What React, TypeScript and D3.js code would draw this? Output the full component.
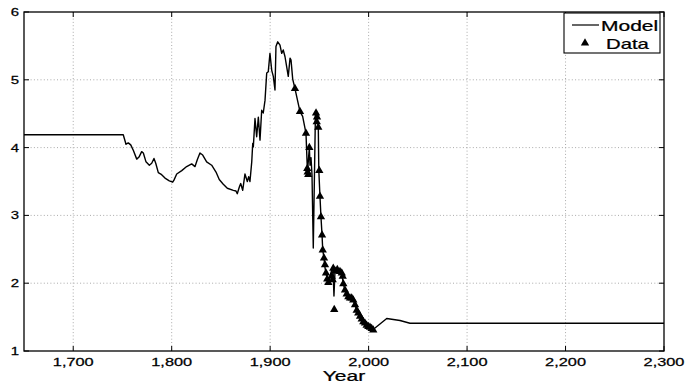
import React from 'react';
import * as d3 from 'd3';

// model curve (year, value)
const modelYears = [
  1650, 1750.8, 1753.6, 1755.9, 1758.4, 1761, 1764.5, 1766.8, 1769.5, 1771.2, 1773.9, 1777.3, 1779.7, 1782, 1783.8,
  1786.4, 1789.8, 1793.2, 1797.6, 1801, 1802.3, 1805.1, 1810.2, 1815.2, 1820.3, 1823.7, 1826, 1828.7, 1831.5, 1835.5,
  1840.6, 1845, 1848.3, 1852.4, 1856.5, 1862.6, 1865.3, 1866.6, 1868.7, 1870.1, 1872.1, 1874.4, 1876.8, 1878.2, 1879.5,
  1881.3, 1882.3, 1882.9, 1884.6, 1886.3, 1888, 1889.7, 1891.4, 1893, 1894.8, 1896.5, 1898.1, 1899.8, 1901.6, 1903.2,
  1904.9, 1905.9, 1907.7, 1910, 1911.7, 1913.3, 1915.1, 1916.8, 1918.4, 1920.2, 1921.2, 1922.9, 1925.2, 1930.3, 1933,
  1936.4, 1937.4, 1937.9, 1939.8, 1940.5, 1941.5, 1942.5, 1943.8, 1946, 1947.6, 1948.9, 1949.4, 1950.6, 1951.6, 1952.7,
  1953.4, 1954.7, 1955.7, 1956.7, 1958, 1959.1, 1960.8, 1962.5, 1963.8, 1964.8, 1965.9, 1968.2, 1970.9, 1972.7, 1974.3,
  1976, 1977.7, 1981.1, 1984.4, 1986.2, 1987.9, 1989.5, 1991.3, 1994.6, 1998, 2001.4, 2004.7, 2006.5, 2018.4, 2031.9,
  2042, 2300,
];
const modelValues = [
  4.19, 4.19, 4.05, 4.07, 4.04, 3.96, 3.83, 3.86, 3.94, 3.92, 3.79, 3.74, 3.77, 3.84, 3.77,
  3.63, 3.6, 3.55, 3.51, 3.49, 3.52, 3.61, 3.66, 3.72, 3.76, 3.72, 3.82, 3.92, 3.89, 3.79,
  3.74, 3.64, 3.53, 3.46, 3.4, 3.37, 3.36, 3.32, 3.42, 3.47, 3.37, 3.61, 3.5, 3.57, 3.5,
  3.79, 4.06, 4.01, 4.43, 4.16, 4.45, 4.11, 4.55, 4.51, 4.7, 5.1, 5.12, 5.39, 5.14, 5.05,
  4.85, 5.49, 5.56, 5.51, 5.39, 5.44, 5.34, 5.19, 5.05, 5.32, 5.29, 5.01, 4.87, 4.53, 4.46,
  4.21, 3.82, 3.64, 4.0, 3.74, 3.85, 3.6, 2.52, 4.51, 4.44, 4.3, 3.67, 3.28, 2.98, 2.71,
  2.49, 2.37, 2.23, 2.15, 2.06, 2.01, 2.11, 2.19, 2.22, 1.81, 2.19, 2.2, 2.17, 2.15, 1.99,
  1.9, 1.84, 1.78, 1.75, 1.68, 1.6, 1.56, 1.51, 1.43, 1.38, 1.35, 1.32, 1.34, 1.48, 1.45,
  1.41, 1.41,
];

// observed data points
const dataYears = [
  1925.2, 1930.3, 1936.4, 1939.8, 1937.7, 1938.1, 1938.7, 1946.6, 1947.3, 1947.6, 1948.9, 1949.9, 1950.6, 1951.6,
  1952.7, 1953.4, 1954.7, 1955.7, 1956.7, 1958, 1959.1, 1962.5, 1963.5, 1964.1, 1965.1, 1965.9, 1968.2, 1970.9,
  1972.7, 1973.7, 1974.3, 1976, 1977.7, 1979.4, 1981.1, 1982.8, 1984.4, 1986.2, 1987.9, 1989.5, 1991.3, 1993,
  1994.6, 1996.3, 1998, 1999.7, 2001.4, 2003.1, 2004.7,
];
const dataValues = [
  4.87, 4.53, 4.21, 4.0, 3.69, 3.64, 3.6, 4.51, 4.38, 4.45, 4.3, 3.66, 3.28, 2.98,
  2.71, 2.49, 2.37, 2.27, 2.15, 2.06, 2.01, 2.1, 2.05, 2.22, 1.61, 2.18, 2.2, 2.17,
  2.15, 2.1, 1.99, 1.9, 1.84, 1.8, 1.78, 1.78, 1.75, 1.68, 1.6, 1.56, 1.51, 1.47,
  1.43, 1.41, 1.38, 1.36, 1.35, 1.33, 1.31,
];

const xTicks = [1700, 1800, 1900, 2000, 2100, 2200, 2300];
const yTicks = [1, 2, 3, 4, 5, 6];
const legendLabels = ['Model', 'Data'];

const W = 686;
const H = 385;
const left = 24;
const right = 664;
const top = 12;
const bottom = 351;
const font = "'Liberation Sans', Arial, Helvetica, sans-serif";

// text in the source is stretched sideways
const SText = ({ x, y, size, sx, anchor = 'start', children }: any) => (
  <text transform={`translate(${x},${y}) scale(${sx},1)`} fontSize={size} textAnchor={anchor} fontFamily={font} fill="#000" stroke="#000" strokeWidth={0.25}>
    {children}
  </text>
);

const App = () => {
  const x = d3.scaleLinear().domain([1650, 2300]).range([left, right]);
  const y = d3.scaleLinear().domain([1, 6]).range([bottom, top]);
  const fmt = d3.format(',');

  const model = modelYears.map((yr, i) => [yr, modelValues[i]] as [number, number]);
  const line = d3
    .line<[number, number]>()
    .x((d) => x(d[0]))
    .y((d) => y(d[1]));
  const tri = d3.symbol().type(d3.symbolTriangle).size(30)();

  return (
    <svg width={W} height={H} style={{ position: 'absolute', left: 0, top: 0, background: '#fff' }}>
      <rect x={0} y={0} width={W} height={H} fill="#fff" />
      {/* grid */}
      {xTicks.slice(0, -1).map((t) => (
        <line key={'gx' + t} x1={x(t)} x2={x(t)} y1={top} y2={bottom} stroke="#aaa" strokeWidth={1} strokeDasharray="1,2.3" />
      ))}
      {yTicks.slice(1, -1).map((t) => (
        <line key={'gy' + t} x1={left} x2={right} y1={y(t)} y2={y(t)} stroke="#aaa" strokeWidth={1} strokeDasharray="1,2.3" />
      ))}
      {/* ticks, inward on all sides */}
      {xTicks.map((t) => (
        <g key={'tx' + t}>
          <line x1={x(t)} x2={x(t)} y1={bottom} y2={bottom - 5} stroke="#000" />
          <line x1={x(t)} x2={x(t)} y1={top} y2={top + 5} stroke="#000" />
          <SText x={x(t)} y={bottom + 15} size={11.5} sx={1.42} anchor="middle">
            {fmt(t)}
          </SText>
        </g>
      ))}
      {yTicks.map((t) => (
        <g key={'ty' + t}>
          <line x1={left} x2={left + 5} y1={y(t)} y2={y(t)} stroke="#000" />
          <line x1={right} x2={right - 5} y1={y(t)} y2={y(t)} stroke="#000" />
          <SText x={19} y={y(t) + 4} size={11.5} sx={1.3} anchor="end">
            {t}
          </SText>
        </g>
      ))}
      {/* model */}
      <path d={line(model) ?? ''} fill="none" stroke="#000" strokeWidth={1.4} strokeLinejoin="round" />
      {/* data */}
      {dataYears.map((yr, i) => (
        <path key={'d' + i} d={tri ?? ''} transform={`translate(${x(yr)},${y(dataValues[i])})`} fill="#000" />
      ))}
      {/* box */}
      <rect x={left} y={top} width={right - left} height={bottom - top} fill="none" stroke="#000" strokeWidth={1.3} />
      <SText x={(left + right) / 2} y={381} size={14.5} sx={1.45} anchor="middle">
        Year
      </SText>
      {/* legend */}
      <rect x={564} y={13} width={96} height={40} fill="#fff" stroke="#000" strokeWidth={1.1} />
      <line x1={572} x2={599} y1={25} y2={25} stroke="#000" strokeWidth={1.2} />
      <SText x={601} y={30.5} size={14} sx={1.5}>
        {legendLabels[0]}
      </SText>
      <path d={tri ?? ''} transform="translate(585,43)" fill="#000" />
      <SText x={606} y={48.5} size={14} sx={1.45}>
        {legendLabels[1]}
      </SText>
    </svg>
  );
};

export default App;
